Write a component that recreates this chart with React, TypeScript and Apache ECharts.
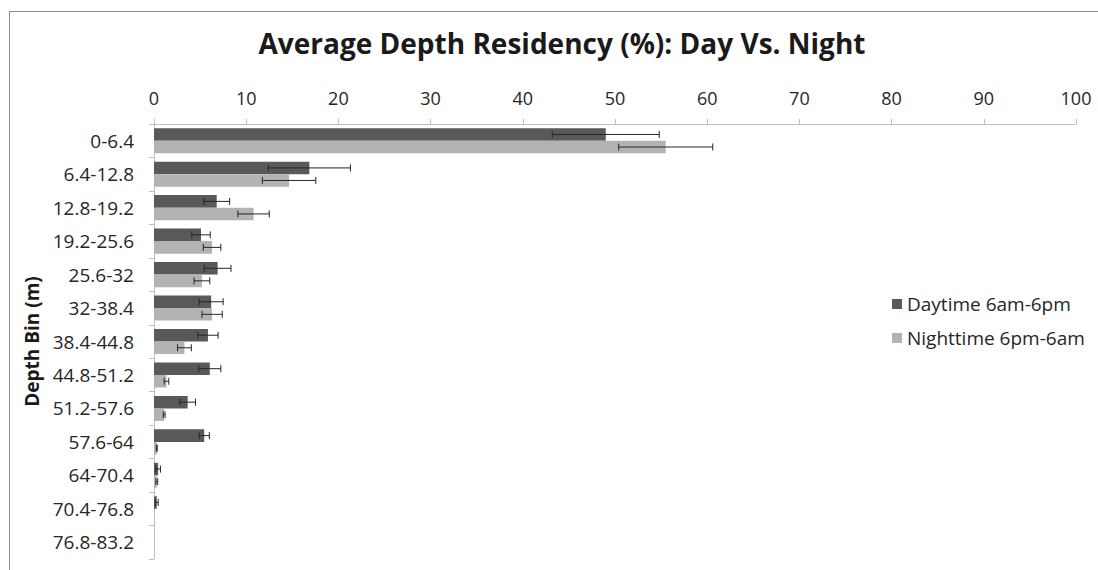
import React, { useEffect, useRef } from "react";
import * as echarts from "echarts";

// Depth bins (m), listed top to bottom
const depthBins = [
  "0-6.4", "6.4-12.8", "12.8-19.2", "19.2-25.6", "25.6-32", "32-38.4", "38.4-44.8",
  "44.8-51.2", "51.2-57.6", "57.6-64", "64-70.4", "70.4-76.8", "76.8-83.2",
];

// Mean residency (%) per bin
const daytime = [49.0, 16.85, 6.8, 5.1, 6.9, 6.2, 5.85, 6.05, 3.65, 5.45, 0.45, 0.3, 0];
const nighttime = [55.5, 14.65, 10.8, 6.3, 5.2, 6.3, 3.3, 1.35, 1.1, 0.3, 0.3, 0, 0];

// Error (± %) per bin
const daytimeErr = [5.8, 4.45, 1.4, 1.0, 1.45, 1.3, 1.1, 1.2, 0.85, 0.55, 0.25, 0.15, 0];
const nighttimeErr = [5.1, 2.9, 1.7, 0.95, 0.85, 1.1, 0.75, 0.25, 0.1, 0.05, 0.1, 0, 0];

const xTicks = { min: 0, max: 100, interval: 10 };

const FONT = "'Open Sans', Lato, sans-serif";
const DARK = "#595959";
const LIGHT = "#b3b3b3";

const BAR_CATEGORY_GAP = 0.25;

function errorData(values: number[], errs: number[], slot: number) {
  return values.map((v, i) => [i, v - errs[i], v + errs[i], slot, errs[i]]);
}

function renderError(params: any, api: any) {
  const cat = api.value(0);
  const lo = api.value(1);
  const hi = api.value(2);
  const slot = api.value(3);
  const err = api.value(4);
  if (!err) return null;
  const band = api.size([0, 1])[1];
  const barW = (band * (1 - BAR_CATEGORY_GAP)) / 2;
  const center = api.coord([0, cat])[1];
  const y = center + (slot === 0 ? -barW / 2 : barW / 2);
  const x1 = api.coord([lo, cat])[0];
  const x2 = api.coord([hi, cat])[0];
  const cap = 3.5;
  const style = { stroke: "#262626", lineWidth: 1 };
  return {
    type: "group",
    children: [
      { type: "line", shape: { x1, y1: y, x2, y2: y }, style },
      { type: "line", shape: { x1, y1: y - cap, x2: x1, y2: y + cap }, style },
      { type: "line", shape: { x1: x2, y1: y - cap, x2, y2: y + cap }, style },
    ],
  };
}

export default function App() {
  const ref = useRef<HTMLDivElement>(null);

  useEffect(() => {
    if (!ref.current) return;
    const chart = echarts.init(ref.current, null, { renderer: "svg" });
    chart.setOption({
      animation: false,
      backgroundColor: "#ffffff",
      textStyle: { fontFamily: FONT },
      title: {
        text: "Average Depth Residency (%): Day Vs. Night",
        left: 557,
        top: 24,
        textAlign: "center",
        textStyle: { fontFamily: FONT, fontSize: 28, fontWeight: "bold", color: "#1a1a1a" },
      },
      graphic: [
        {
          type: "rect",
          silent: true,
          shape: { x: 9.5, y: 11.5, width: 1200, height: 700 },
          style: { fill: "none", stroke: "#8c8c8c", lineWidth: 1 },
        },
      ],
      legend: {
        orient: "vertical",
        left: 887,
        top: 289,
        itemWidth: 10,
        itemHeight: 10,
        itemGap: 14,
        icon: "rect",
        textStyle: { fontFamily: FONT, fontSize: 19, color: "#262626", lineHeight: 20 },
        data: ["Daytime 6am-6pm", "Nighttime 6pm-6am"],
      },
      grid: { left: 154, right: 22, top: 124, bottom: 11, containLabel: false },
      xAxis: {
        type: "value",
        position: "top",
        min: xTicks.min,
        max: xTicks.max,
        interval: xTicks.interval,
        splitLine: { show: false },
        axisLine: { show: true, lineStyle: { color: "#bfbfbf" } },
        axisTick: { show: true, length: 5, lineStyle: { color: "#bfbfbf" } },
        axisLabel: { fontFamily: FONT, fontSize: 18, color: "#262626", margin: 17 },
      },
      yAxis: {
        type: "category",
        inverse: true,
        data: depthBins,
        name: "Depth Bin (m)",
        nameLocation: "middle",
        nameRotate: 90,
        nameGap: 111,
        nameTextStyle: { fontFamily: FONT, fontSize: 19, fontWeight: "bold", color: "#1a1a1a" },
        axisLine: { show: true, lineStyle: { color: "#bfbfbf" } },
        axisTick: { show: true, length: 5, lineStyle: { color: "#bfbfbf" } },
        axisLabel: { fontFamily: FONT, fontSize: 19, color: "#262626", margin: 20 },
      },
      series: [
        {
          name: "Daytime 6am-6pm",
          type: "bar",
          data: daytime,
          itemStyle: { color: DARK },
          barGap: "0%",
          barCategoryGap: `${BAR_CATEGORY_GAP * 100}%`,
        },
        {
          name: "Nighttime 6pm-6am",
          type: "bar",
          data: nighttime,
          itemStyle: { color: LIGHT },
          barGap: "0%",
          barCategoryGap: `${BAR_CATEGORY_GAP * 100}%`,
        },
        {
          type: "custom",
          renderItem: renderError,
          encode: { y: 0, x: [1, 2] },
          data: errorData(daytime, daytimeErr, 0),
          z: 5,
          silent: true,
        },
        {
          type: "custom",
          renderItem: renderError,
          encode: { y: 0, x: [1, 2] },
          data: errorData(nighttime, nighttimeErr, 1),
          z: 5,
          silent: true,
        },
      ],
    });
    return () => chart.dispose();
  }, []);

  return (
    <div
      ref={ref}
      style={{ position: "absolute", left: 0, top: 0, width: 1098, height: 570 }}
    />
  );
}
